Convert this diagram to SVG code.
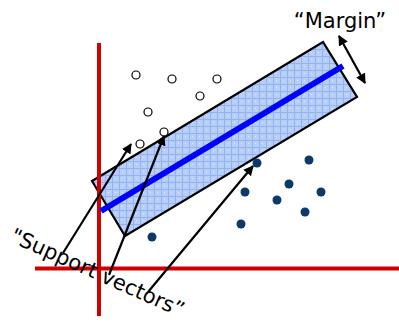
<svg xmlns="http://www.w3.org/2000/svg" width="399" height="322" viewBox="0 0 399 322">
  <style>
    .axis { stroke: #d00000; stroke-width: 4; fill: none; }
    .open { fill: #ffffff; stroke: #000000; stroke-width: 1.2; }
    .dot { fill: #0b3a66; }
    .conn { stroke: #000000; stroke-width: 2.2; fill: none; marker-end: url(#ah); }
    .lbl { font-family: "DejaVu Sans", Verdana, sans-serif; font-size: 21px; fill: #000000; }
  </style>
  <defs>
    <marker id="ah" viewBox="0 0 10 10" refX="9" refY="5" markerWidth="4.6" markerHeight="4.6" orient="auto-start-reverse" markerUnits="strokeWidth">
      <path d="M0,0 L10,5 L0,10 Z" fill="#000000"/>
    </marker>
    <pattern id="grid" patternUnits="userSpaceOnUse" width="7" height="7">
      <rect width="7" height="7" fill="#b6cef8"/>
      <path d="M0,0.5 H7 M0.5,0 V7" stroke="#93b2ef" stroke-width="1"/>
      <rect x="3" y="3" width="1" height="1" fill="#dfe9fd"/>
    </pattern>
  </defs>

  <g id="margin-band">
    <polygon points="92,181 323,42 357,97 125,236" fill="url(#grid)" stroke="#000000" stroke-width="2.2"/>
  </g>

  <g id="axes">
    <line class="axis" x1="99" y1="43" x2="99" y2="316"/>
    <line class="axis" x1="35" y1="268.5" x2="399" y2="268.5"/>
  </g>

  <g id="hyperplane">
    <line x1="101" y1="211" x2="343" y2="66" stroke="#0000ff" stroke-width="6"/>
  </g>

  <g id="class-open">
    <circle class="open" cx="136" cy="75" r="4"/>
    <circle class="open" cx="172" cy="79" r="4"/>
    <circle class="open" cx="217" cy="79" r="4"/>
    <circle class="open" cx="200" cy="96" r="4"/>
    <circle class="open" cx="148" cy="112" r="4"/>
    <circle class="open" cx="164" cy="132" r="4"/>
    <circle class="open" cx="140" cy="144" r="4"/>
  </g>

  <g id="class-filled">
    <circle class="dot" cx="257" cy="163" r="4.5"/>
    <circle class="dot" cx="309" cy="160" r="4.5"/>
    <circle class="dot" cx="289" cy="184" r="4.5"/>
    <circle class="dot" cx="245" cy="192" r="4.5"/>
    <circle class="dot" cx="321" cy="192" r="4.5"/>
    <circle class="dot" cx="277" cy="200" r="4.5"/>
    <circle class="dot" cx="305" cy="212" r="4.5"/>
    <circle class="dot" cx="241" cy="224" r="4.5"/>
    <circle class="dot" cx="152" cy="237" r="4.5"/>
  </g>

  <g id="connectors">
    <line class="conn" x1="63" y1="253" x2="131" y2="144"/>
    <line class="conn" x1="109" y1="275" x2="164" y2="136"/>
    <line class="conn" x1="148" y1="292" x2="253" y2="166"/>
    <line class="conn" x1="339" y1="36" x2="365" y2="83" stroke-width="2.6" marker-start="url(#ah)"/>
  </g>

  <g id="label-margin">
    <text class="lbl" x="340" y="28" text-anchor="middle">“Margin”</text>
  </g>

  <g id="label-support">
    <text class="lbl" x="9" y="241" font-size="20" transform="rotate(24 9 241)">"Support vectors”</text>
  </g>
</svg>
